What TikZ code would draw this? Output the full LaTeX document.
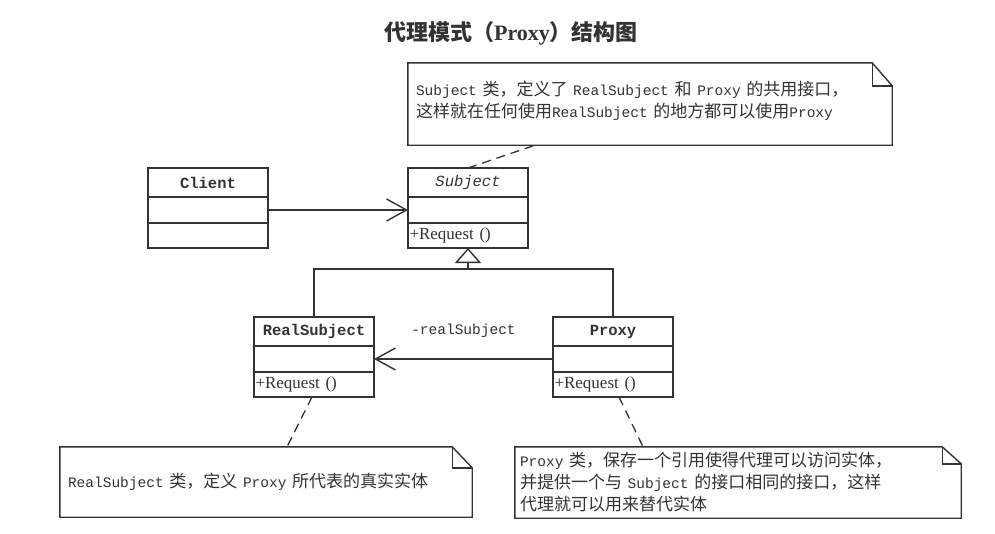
\documentclass[tikz,border=0pt]{standalone}
\usepackage{fontspec}
\setmainfont{Noto Sans CJK SC}
\newfontfamily\monofnt{Liberation Mono}
\newfontfamily\seriffnt{Liberation Serif}
\usetikzlibrary{positioning, arrows.meta}
\definecolor{ink}{HTML}{333333}
\newcommand{\enword}[1]{{\monofnt\fontsize{14.5}{22}\selectfont #1}}

\begin{document}
\begin{tikzpicture}[
      x=1pt, y=-1pt,
      every node/.style={text=ink},
      header/.style={rectangle, draw=ink, line width=1.4pt, outer sep=0pt,
                     minimum width=120pt, minimum height=29pt,
                     font=\monofnt\bfseries\fontsize{15.5}{17}\selectfont},
      attrbox/.style={rectangle, draw=ink, line width=1.4pt, outer sep=0pt,
                      minimum width=120pt, minimum height=26pt},
      opsbox/.style={rectangle, draw=ink, line width=1.4pt, outer sep=0pt,
                     minimum width=120pt, minimum height=25pt, inner xsep=1.5pt,
                     text width=117pt, align=left,
                     font=\seriffnt\fontsize{17}{18}\selectfont},
      notebox/.style={rectangle, inner xsep=8pt, align=left,
                      font=\fontsize{17}{22}\selectfont},
      noteedge/.style={draw=ink, line width=1.4pt, line join=miter},
      noteline/.style={draw=ink, line width=1.3pt, dash pattern=on 9pt off 6pt},
      assoc/.style={-{Straight Barb[length=20pt, width=22pt]}, draw=ink, line width=1.4pt},
      inherit/.style={-{Triangle[open, length=15pt, width=26pt]}, draw=ink, line width=1.4pt},
      rolename/.style={font=\monofnt\fontsize{14.5}{16}\selectfont},
    ]
    \useasboundingbox[fill=white] (0,0) rectangle (995,533);

    \node[font=\bfseries\fontsize{22}{24}\selectfont] (title) at (511,33)
      {代理模式（{\seriffnt\bfseries Proxy}）结构图};

    % classes
    \node[header, anchor=north west] (client) at (148,168) {Client};
    \node[attrbox, below=0pt of client] (client-attr) {};
    \node[opsbox, below=0pt of client-attr] (client-ops) {};

    \node[header, anchor=north west, font=\monofnt\itshape\fontsize{15.5}{17}\selectfont]
      (subject) at (408,168) {Subject};
    \node[attrbox, below=0pt of subject] (subject-attr) {};
    \node[opsbox, below=0pt of subject-attr] (subject-ops) {+Request ()};

    \node[header, anchor=north west] (realsub) at (254,317) {RealSubject};
    \node[attrbox, below=0pt of realsub] (realsub-attr) {};
    \node[opsbox, below=0pt of realsub-attr] (realsub-ops) {+Request ()};

    \node[header, anchor=north west] (proxy) at (553,317) {Proxy};
    \node[attrbox, below=0pt of proxy] (proxy-attr) {};
    \node[opsbox, below=0pt of proxy-attr] (proxy-ops) {+Request ()};

    % notes
    \node[notebox, minimum width=484pt, minimum height=82pt, text width=468pt]
      (subjnote) at (650,104)
      {\enword{Subject} 类，定义了 \enword{RealSubject} 和 \enword{Proxy} 的共用接口，\\
       这样就在任何使用\enword{RealSubject} 的地方都可以使用\enword{Proxy}\\[-12pt]\mbox{}};
    \node[notebox, minimum width=412pt, minimum height=70pt, text width=396pt]
      (realnote) at (266,482)
      {\enword{RealSubject} 类，定义 \enword{Proxy} 所代表的真实实体};
    \node[notebox, minimum width=446pt, minimum height=71pt, text width=436pt, inner xsep=5pt]
      (proxynote) at (738,482.5)
      {\enword{Proxy} 类，保存一个引用使得代理可以访问实体，\\
       并提供一个与 \enword{Subject} 的接口相同的接口，这样\\
       代理就可以用来替代实体};

    \foreach \n/\fx/\fy in {subjnote/20/23, realnote/20/21, proxynote/19/17} {
      \draw[noteedge] (\n.south west) -- (\n.north west) -- ([xshift=-\fx pt]\n.north east)
        -- ([yshift=-\fy pt]\n.north east) -- (\n.south east) -- cycle;
      \draw[noteedge] ([xshift=-\fx pt]\n.north east) |- ([yshift=-\fy pt]\n.north east);
    }

    % relations
    \draw[assoc] (client-attr) -- (subject-attr);
    \draw[assoc] (proxy-attr) -- node[rolename, above=17pt] {-realSubject} (realsub-attr);

    \coordinate (hbar) at (468,269);
    \draw[draw=ink, line width=1.4pt] (realsub.north) |- (hbar) -| (proxy.north);
    \draw[inherit] (hbar) -- (subject-ops.south);

    \draw[noteline] (subject.north) -- ([xshift=-115pt]subjnote.south);
    \draw[noteline] ([xshift=-2pt]realsub-ops.south) -- ([xshift=21pt]realnote.north);
    \draw[noteline] ([xshift=6pt]proxy-ops.south) -- ([xshift=-95pt]proxynote.north);
  \end{tikzpicture}
\end{document}
